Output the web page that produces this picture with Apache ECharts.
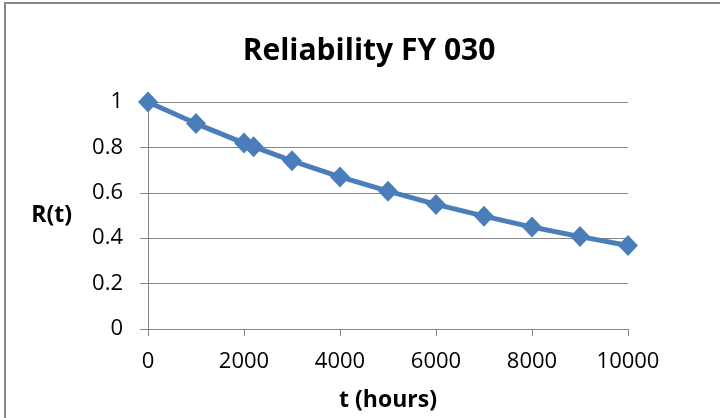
<!DOCTYPE html>
<html>
<head>
<meta charset="utf-8">
<script src="https://cdn.jsdelivr.net/npm/echarts@6/dist/echarts.min.js"></script>
<style>
  html, body { margin: 0; padding: 0; background: #fff; }
  #chart { width: 720px; height: 418px; }
</style>
</head>
<body>
<div id="chart"></div>
<script>
// Operating time in hours and the reliability R(t) at each time
const hours = [0, 1000, 2000, 2200, 3000, 4000, 5000, 6000, 7000, 8000, 9000, 10000];
const reliability = [1.0, 0.905, 0.819, 0.803, 0.741, 0.670, 0.607, 0.549, 0.497, 0.449, 0.407, 0.368];

const titleText = 'Reliability FY 030';
const xAxisName = 't (hours)';
const yAxisName = 'R(t)';

const fontFamily = '"Open Sans", "Liberation Sans", sans-serif';
const axisGray = '#868686';

const chart = echarts.init(document.getElementById('chart'), null, { renderer: 'canvas' });

chart.setOption({
  animation: false,
  backgroundColor: '#ffffff',
  graphic: [{
    type: 'rect',
    shape: { x: 5, y: 3, width: 740, height: 440 },
    style: { fill: 'none', stroke: '#898989', lineWidth: 2 },
    silent: true
  }],
  title: {
    text: titleText,
    left: 364,
    top: 31,
    textAlign: 'center',
    textStyle: { fontFamily, fontSize: 30, fontWeight: 'bold', color: '#000' }
  },
  grid: { left: 148, right: 92, top: 102, bottom: 89 },
  xAxis: {
    type: 'value',
    min: 0,
    max: 10000,
    interval: 2000,
    name: xAxisName,
    nameLocation: 'middle',
    nameGap: 60,
    nameTextStyle: { fontFamily, fontSize: 23, fontWeight: 'bold', color: '#000' },
    axisLine: { show: true, lineStyle: { color: axisGray, width: 1 } },
    axisTick: { show: true, length: 7, lineStyle: { color: axisGray } },
    axisLabel: {
      fontFamily, fontSize: 22, color: '#000', margin: 22,
      formatter: v => String(v)
    },
    splitLine: { show: false }
  },
  yAxis: {
    type: 'value',
    min: 0,
    max: 1,
    interval: 0.2,
    name: yAxisName,
    nameLocation: 'middle',
    nameRotate: 0,
    nameGap: 76,
    nameTextStyle: { fontFamily, fontSize: 23, fontWeight: 'bold', color: '#000' },
    axisLine: { show: true, lineStyle: { color: axisGray, width: 1 } },
    axisTick: { show: true, length: 8, lineStyle: { color: axisGray } },
    axisLabel: { fontFamily, fontSize: 22, color: '#000', margin: 25 },
    splitLine: { show: true, lineStyle: { color: axisGray, width: 1 } }
  },
  series: [{
    type: 'line',
    data: hours.map((h, i) => [h, reliability[i]]),
    symbol: 'diamond',
    symbolSize: [20, 21],
    lineStyle: { color: '#4a7ebb', width: 5 },
    itemStyle: { color: '#4a7ebb' }
  }]
});
</script>
</body>
</html>
